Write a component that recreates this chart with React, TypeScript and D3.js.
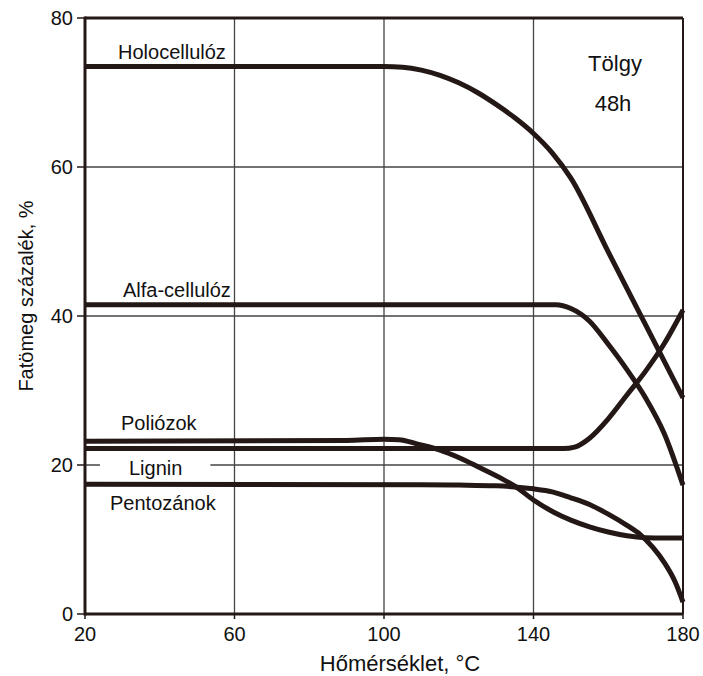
import React, { useRef, useEffect } from 'react';
import * as d3 from 'd3';

// tick labels
const xTicks = [20, 60, 100, 140, 180];
const yTicks = [0, 20, 40, 60, 80];

// series (temperature °C -> mass %)
const holoX = [20, 95, 100, 105, 110, 115, 120, 125, 130, 135, 140, 145, 150, 160, 170, 180];
const holoY = [73.5, 73.5, 73.5, 73.4, 73.0, 72.3, 71.3, 70.0, 68.4, 66.6, 64.5, 61.9, 58.5, 48.6, 38.8, 29];

const alfaX = [20, 146, 150, 155, 160, 165, 170, 175, 180];
const alfaY = [41.5, 41.5, 41.0, 39.3, 36.2, 32.8, 29.0, 24.2, 17.3];

const riseX = [20, 148, 151, 155, 160, 165, 170, 175, 180];
const riseY = [22.2, 22.2, 22.4, 23.6, 26.2, 29.4, 32.6, 36.3, 40.8];

const polyX = [20, 90, 100, 104, 109, 115, 120, 125, 131, 135.5, 140, 145.3, 150, 155, 160, 165, 170, 175, 180];
const polyY = [23.2, 23.3, 23.45, 23.4, 22.8, 22.0, 21.0, 19.8, 18.3, 17.0, 15.3, 13.7, 12.6, 11.7, 11.0, 10.5, 10.25, 10.2, 10.2];

const pentoX = [20, 110, 120, 130, 135, 140, 145, 150, 155, 160, 165, 168.5, 172, 175, 178, 180];
const pentoY = [17.4, 17.35, 17.3, 17.2, 17.05, 16.8, 16.4, 15.6, 14.7, 13.4, 11.9, 10.7, 8.9, 6.9, 4.2, 1.6];

const seriesList = [
  { xs: holoX, ys: holoY },
  { xs: alfaX, ys: alfaY },
  { xs: riseX, ys: riseY },
  { xs: polyX, ys: polyY },
  { xs: pentoX, ys: pentoY },
];

const labels = [
  { text: 'Holocellulóz', x: 118, y: 59 },
  { text: 'Alfa-cellulóz', x: 123, y: 297 },
  { text: 'Poliózok', x: 121, y: 430 },
  { text: 'Lignin', x: 129, y: 475, bg: true },
  { text: 'Pentozánok', x: 110, y: 510 },
];

const ChartSvg = () => {
  const svgRef = useRef(null);

  useEffect(() => {
    if (!svgRef.current) return;
    const svg = d3.select(svgRef.current);
    svg.selectAll('*').remove();

    const font = 'Liberation Sans, Arial, Helvetica, sans-serif';
    const ink = '#241816';

    const x = d3.scaleLinear().domain([20, 180]).range([85, 683]);
    const y = d3.scaleLinear().domain([0, 80]).range([614, 18]);

    svg.append('rect').attr('width', 703).attr('height', 676).attr('fill', '#fff');

    // grid
    xTicks.slice(1, -1).forEach(v => {
      svg.append('line')
        .attr('x1', x(v)).attr('x2', x(v))
        .attr('y1', y(80)).attr('y2', y(0))
        .attr('stroke', '#444').attr('stroke-width', 1.3);
    });
    yTicks.slice(1, -1).forEach(v => {
      svg.append('line')
        .attr('x1', x(20)).attr('x2', x(180))
        .attr('y1', y(v)).attr('y2', y(v))
        .attr('stroke', '#444').attr('stroke-width', 1.3);
    });

    // frame
    svg.append('line').attr('x1', x(180)).attr('x2', x(180)).attr('y1', y(80)).attr('y2', y(0))
      .attr('stroke', ink).attr('stroke-width', 2);
    svg.append('line').attr('x1', x(20)).attr('x2', x(180)).attr('y1', y(80)).attr('y2', y(80))
      .attr('stroke', ink).attr('stroke-width', 3);
    svg.append('line').attr('x1', x(20)).attr('x2', x(180)).attr('y1', y(0)).attr('y2', y(0))
      .attr('stroke', ink).attr('stroke-width', 3);
    svg.append('line').attr('x1', x(20)).attr('x2', x(20)).attr('y1', y(80) - 1.5).attr('y2', y(0) + 1.5)
      .attr('stroke', ink).attr('stroke-width', 3);

    // y ticks and labels
    yTicks.forEach(v => {
      svg.append('line')
        .attr('x1', x(20) - 8).attr('x2', x(20))
        .attr('y1', y(v)).attr('y2', y(v))
        .attr('stroke', ink).attr('stroke-width', 1.5);
      svg.append('text')
        .attr('x', 73).attr('y', y(v)).attr('dy', '0.36em')
        .attr('text-anchor', 'end')
        .attr('font-family', font).attr('font-size', '20px').attr('fill', '#111')
        .text(v);
    });

    // x ticks and labels
    xTicks.forEach(v => {
      svg.append('line')
        .attr('x1', x(v)).attr('x2', x(v))
        .attr('y1', y(0)).attr('y2', y(0) + 5)
        .attr('stroke', ink).attr('stroke-width', 1.5);
      svg.append('text')
        .attr('x', x(v)).attr('y', 641)
        .attr('text-anchor', 'middle')
        .attr('font-family', font).attr('font-size', '20px').attr('fill', '#111')
        .text(v);
    });

    // axis titles
    svg.append('text')
      .attr('x', 400).attr('y', 671)
      .attr('text-anchor', 'middle')
      .attr('font-family', font).attr('font-size', '22px').attr('fill', '#111')
      .text('Hőmérséklet, °C');
    svg.append('text')
      .attr('transform', `translate(33,296) rotate(-90)`)
      .attr('text-anchor', 'middle')
      .attr('font-family', font).attr('font-size', '20px').attr('fill', '#111')
      .text('Fatömeg százalék, %');

    // labels (Lignin sits in a gap of the 20 % grid line)
    labels.forEach(l => {
      const t = svg.append('text')
        .attr('x', l.x).attr('y', l.y)
        .attr('font-family', font).attr('font-size', '20px').attr('fill', '#111')
        .text(l.text);
      if (l.bg) {
        const bb = (t.node() as SVGTextElement).getBBox();
        svg.insert('rect', 'text')
          .attr('x', bb.x - 29).attr('y', bb.y)
          .attr('width', bb.width + 29 + 28).attr('height', bb.height)
          .attr('fill', '#fff');
      }
    });

    // curves
    const line = d3.line<[number, number]>()
      .x(d => x(d[0]))
      .y(d => y(d[1]))
      .curve(d3.curveMonotoneX);

    seriesList.forEach(s => {
      const pts = s.xs.map((v, i) => [v, s.ys[i]] as [number, number]);
      svg.append('path')
        .datum(pts)
        .attr('fill', 'none')
        .attr('stroke', ink)
        .attr('stroke-width', 5)
        .attr('d', line);
    });

    // annotation
    svg.append('text')
      .attr('x', 615).attr('y', 71)
      .attr('text-anchor', 'middle')
      .attr('font-family', font).attr('font-size', '22px').attr('fill', '#111')
      .text('Tölgy');
    svg.append('text')
      .attr('x', 613).attr('y', 111)
      .attr('text-anchor', 'middle')
      .attr('font-family', font).attr('font-size', '22px').attr('fill', '#111')
      .text('48h');
  }, []);

  return <svg ref={svgRef} width={703} height={676} style={{ display: 'block' }} />;
};

export default function App() {
  return (
    <div style={{ position: 'absolute', left: 0, top: 0, width: 703, height: 676 }}>
      <ChartSvg />
    </div>
  );
}
